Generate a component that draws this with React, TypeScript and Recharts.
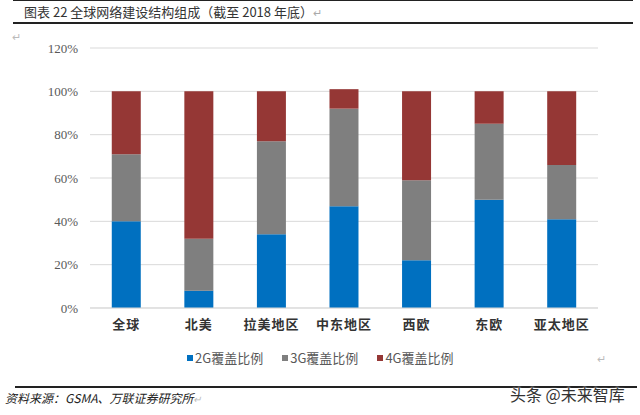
import React from 'react';
import { BarChart, Bar, XAxis, YAxis, CartesianGrid } from 'recharts';

const categories = ['全球', '北美', '拉美地区', '中东地区', '西欧', '东欧', '亚太地区'];
const g2 = [40, 8, 34, 47, 22, 50, 41];
const g3 = [31, 24, 43, 45, 37, 35, 25];
const g4 = [29, 68, 23, 9, 41, 15, 34];
const yTicks = [0, 20, 40, 60, 80, 100, 120];
const seriesNames = ['2G覆盖比例', '3G覆盖比例', '4G覆盖比例'];
const seriesKeys = ['g2', 'g3', 'g4'];
const seriesColors = ['#0070C0', '#7F7F7F', '#953735'];

const data = categories.map((c, i) => ({ name: c, g2: g2[i], g3: g3[i], g4: g4[i] }));

const cjk = '"Noto Sans CJK SC", "Noto Sans", sans-serif';

export default function App() {
  return (
    <div style={{ position: 'absolute', left: 0, top: 0, width: 640, height: 415, background: '#fff', overflow: 'hidden', fontFamily: cjk }}>
      {/* title lines */}
      <div style={{ position: 'absolute', left: 13, top: 0, width: 620, height: 1, background: '#222' }} />
      <div style={{ position: 'absolute', left: 13, top: 22, width: 620, height: 2, background: '#222' }} />
      <div style={{ position: 'absolute', left: 24, top: 3, fontSize: 13, lineHeight: '18px', color: '#333', whiteSpace: 'nowrap' }}>
        图表 22 全球网络建设结构组成（截至 2018 年底）<span style={{ color: '#aaa', fontSize: 11 }}>↵</span>
      </div>
      <div style={{ position: 'absolute', left: 12, top: 28, fontSize: 11, color: '#bbb' }}>↵</div>

      <div style={{ position: 'absolute', left: 0, top: 0 }}>
        <BarChart width={640} height={415} data={data} margin={{ top: 48, right: 42, bottom: 77, left: 0 }} barCategoryGap="30%">
          <CartesianGrid horizontal vertical={false} stroke="#D9D9D9" />
          <XAxis
            dataKey="name"
            axisLine={{ stroke: '#D9D9D9' }}
            tickLine={false}
            height={30}
            tickMargin={6}
            interval={0}
            tick={{ fontSize: 13, fill: '#333', fontFamily: cjk, fontWeight: 700, letterSpacing: 1 }}
          />
          <YAxis
            width={90}
            domain={[0, 120]}
            ticks={yTicks}
            axisLine={false}
            tickLine={false}
            tickMargin={6}
            tickFormatter={(v: number) => `${v}%`}
            tick={{ fontSize: 13, fill: '#595959', fontFamily: '"Liberation Serif", serif' }}
          />
          {seriesKeys.map((k, i) => (
            <Bar key={k} dataKey={k} name={seriesNames[i]} stackId="a" fill={seriesColors[i]} isAnimationActive={false} />
          ))}
        </BarChart>
      </div>

      {/* legend */}
      <div style={{ position: 'absolute', left: 187, top: 348, display: 'flex', fontSize: 13, color: '#595959', whiteSpace: 'nowrap' }}>
        {seriesNames.map((n, i) => (
          <div key={n} style={{ display: 'flex', alignItems: 'center', marginRight: i < 2 ? 19 : 0 }}>
            <span style={{ display: 'inline-block', width: 6, height: 6, background: seriesColors[i], marginRight: 2 }} />
            <span>{n}</span>
          </div>
        ))}
      </div>
      <div style={{ position: 'absolute', left: 597, top: 350, fontSize: 11, color: '#bbb' }}>↵</div>

      {/* footer */}
      <div style={{ position: 'absolute', left: 15, top: 386, width: 622, height: 2, background: '#222' }} />
      <div style={{ position: 'absolute', left: 5, top: 389, fontSize: 12, fontStyle: 'italic', color: '#222', whiteSpace: 'nowrap' }}>
        资料来源：GSMA、万联证券研究所<span style={{ color: '#bbb', fontSize: 10 }}>↵</span>
      </div>
      <div style={{ position: 'absolute', left: 510, top: 382, fontSize: 16, color: '#333', whiteSpace: 'nowrap', background: 'transparent', textShadow: '0 0 2px #fff, 0 0 2px #fff' }}>
        头条 @未来智库
      </div>
    </div>
  );
}
